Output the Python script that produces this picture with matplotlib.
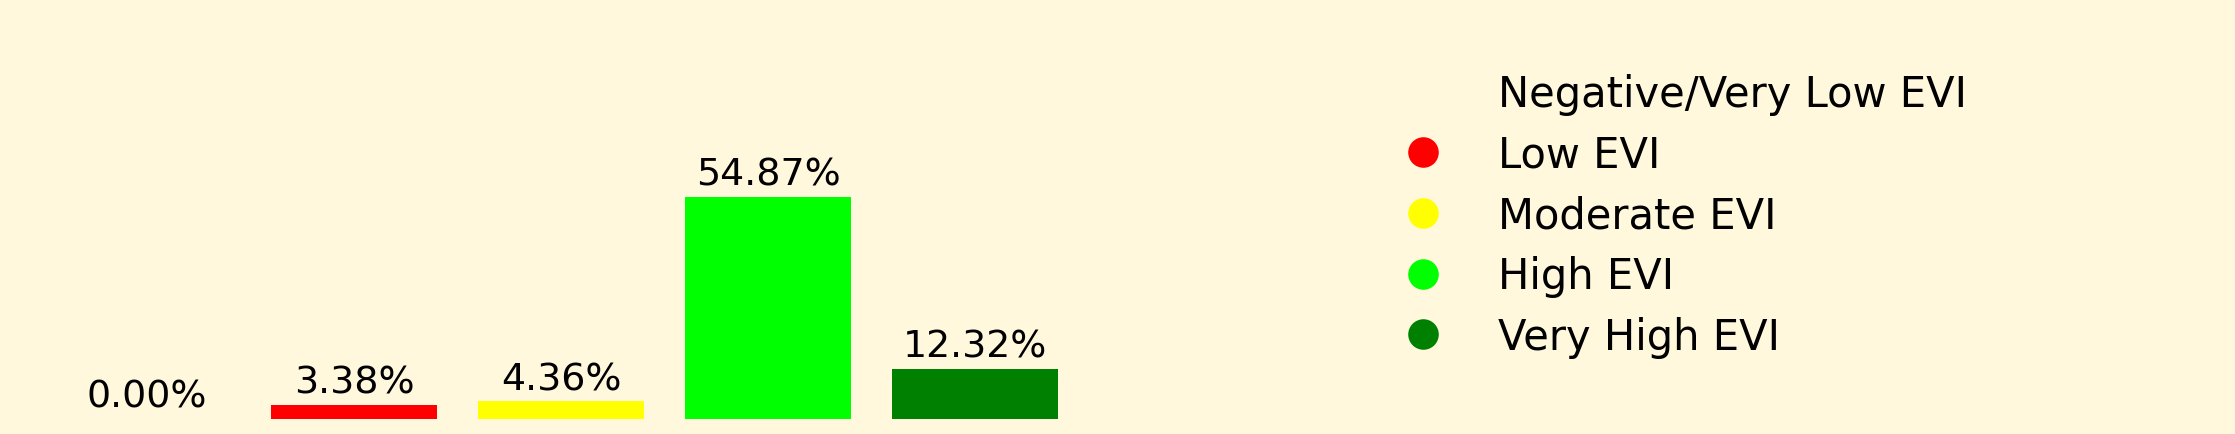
import matplotlib
matplotlib.use("Agg")
import matplotlib.pyplot as plt
from matplotlib.lines import Line2D

categories = ['Negative/Very Low EVI', 'Low EVI', 'Moderate EVI', 'High EVI', 'Very High EVI']
percentages = [0.00, 3.38, 4.36, 54.87, 12.32]
colors = ['#FFF8DC', 'red', 'yellow', 'lime', 'green']

bg = '#FFF8DC'
fig = plt.figure(figsize=(22.35, 4.35), dpi=100, facecolor=bg)
ax = fig.add_axes([14.5 / 2235, 15.3 / 435, 1093 / 2235, 232.9 / 435])
ax.set_facecolor(bg)

x = range(len(categories))
ax.bar(x, percentages, color=colors, width=0.8)
for i, v in enumerate(percentages):
    ax.text(i, v + 1, f'{v:.2f}%', ha='center', va='bottom', fontsize=27.3)

ax.set_xlim(-0.64, 4.64)
ax.set_ylim(0, 57.6)
ax.axis('off')

handles = [Line2D([0], [0], marker='o', color='none', markerfacecolor=c,
                  markeredgecolor='none', markersize=22) for c in colors]
fig.legend(handles, categories, loc='upper left', frameon=False, fontsize=30,
           labelspacing=0.45, bbox_to_anchor=(1344 / 2235, 1 - 36.5 / 435))

fig.savefig('out.png', dpi=100, facecolor=bg)
